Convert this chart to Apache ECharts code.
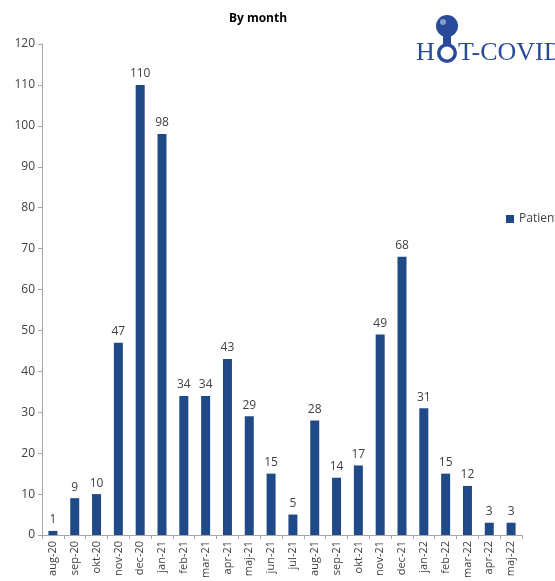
<!DOCTYPE html>
<html><head><meta charset="utf-8">
<script src="https://cdn.jsdelivr.net/npm/echarts@6/dist/echarts.min.js"></script>
<style>html,body{margin:0;padding:0;background:#fff}#c{width:555px;height:581px}</style>
</head><body><div id="c"></div>
<script>
const categories = ['aug-20','sep-20','okt-20','nov-20','dec-20','jan-21','feb-21','mar-21','apr-21','maj-21','jun-21','jul-21','aug-21','sep-21','okt-21','nov-21','dec-21','jan-22','feb-22','mar-22','apr-22','maj-22'];
const patients = [1,9,10,47,110,98,34,34,43,29,15,5,28,14,17,49,68,31,15,12,3,3];
const seriesName = 'Patients';
const chartTitle = 'By month';
const yMin = 0, yMax = 120, yStep = 10;

const chart = echarts.init(document.getElementById('c'), null, {renderer:'canvas'});
const barColor = '#1F4A87';
chart.setOption({
  animation:false,
  title:{text:chartTitle,left:253,top:8,textAlign:'center',textStyle:{fontFamily:'Open Sans',fontSize:12,fontWeight:'bold',color:'#000'}},
  legend:{show:true,left:501,top:208,itemWidth:8,itemHeight:8,itemGap:4,icon:'rect',
    textStyle:{fontFamily:'Open Sans',fontSize:12,color:'#404040'},data:[seriesName]},
  grid:{left:42,right:33,top:44,bottom:46,containLabel:false},
  xAxis:{type:'category',data:categories,
    axisLine:{lineStyle:{color:'#a6a6a6'}},
    axisTick:{show:true,alignWithLabel:false,length:4,lineStyle:{color:'#a6a6a6'}},
    axisLabel:{rotate:90,fontFamily:'Open Sans',fontSize:11,color:'#404040',margin:6,interval:0}},
  yAxis:{type:'value',min:yMin,max:yMax,interval:yStep,
    splitLine:{show:false},
    axisLine:{show:true,lineStyle:{color:'#a6a6a6'}},
    axisTick:{show:true,length:4,lineStyle:{color:'#a6a6a6'}},
    axisLabel:{fontFamily:'Open Sans',fontSize:12,color:'#404040',margin:7}},
  series:[{name:seriesName,type:'bar',data:patients,barWidth:9,
    itemStyle:{color:barColor},
    label:{show:true,position:'top',distance:5,fontFamily:'Open Sans',fontSize:12,color:'#404040'}}],
  graphic:[
    {type:'circle',shape:{cx:447,cy:26,r:11},style:{fill:'#2a4b9b'}},
    {type:'circle',shape:{cx:443,cy:22,r:3},style:{fill:'#ffffff',opacity:0.45}},
    {type:'rect',shape:{x:443,y:34,width:8,height:12},style:{fill:'#2a4b9b'}},
    {type:'circle',shape:{cx:447,cy:53,r:10},style:{fill:'#2a4b9b'}},
    {type:'circle',shape:{cx:447,cy:53,r:6.5},style:{fill:'#ffffff'}},
    {type:'text',left:416,top:40,style:{text:'H',font:'26px "Liberation Serif"',fill:'#2a4b9b'}},
    {type:'text',left:458,top:40,style:{text:'T-COVID',font:'26px "Liberation Serif"',fill:'#2a4b9b'}}
  ]
});
</script></body></html>
